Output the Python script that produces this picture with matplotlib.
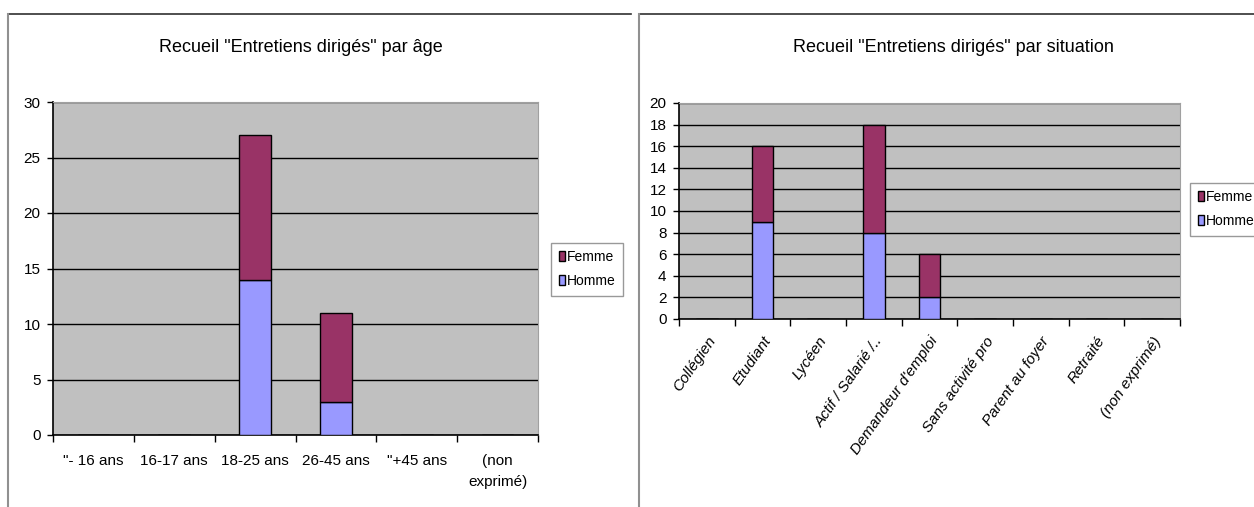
import numpy as np
import matplotlib.pyplot as plt
from matplotlib.lines import Line2D

age_labels = ['"- 16 ans', '16-17 ans', '18-25 ans', '26-45 ans', '"+45 ans', '(non\nexprimé)']
age_homme = [0, 0, 14, 3, 0, 0]
age_femme = [0, 0, 13, 8, 0, 0]

sit_labels = ['Collégien', 'Etudiant', 'Lycéen', 'Actif / Salarié /..', "Demandeur d'emploi",
              'Sans activité pro', 'Parent au foyer', 'Retraité', '(non exprimé)']
sit_homme = [0, 9, 0, 8, 2, 0, 0, 0, 0]
sit_femme = [0, 7, 0, 10, 4, 0, 0, 0, 0]

FEMME = '#993366'
HOMME = '#9999FF'
BG = '#C0C0C0'
plt.rcParams['font.family'] = ['Liberation Sans', 'DejaVu Sans']

W, H = 1254, 507
fig = plt.figure(figsize=(W / 100, H / 100), dpi=100)


def px_axes(x0, y0, x1, y1):
    return fig.add_axes([x0 / W, 1 - y1 / H, (x1 - x0) / W, (y1 - y0) / H])


def stacked(ax, labels, homme, femme, ymax, step, rot):
    x = np.arange(len(labels))
    ax.set_facecolor(BG)
    ax.bar(x, homme, width=0.39, color=HOMME, edgecolor='black', linewidth=1, zorder=3)
    ax.bar(x, femme, width=0.39, bottom=homme, color=FEMME, edgecolor='black', linewidth=1, zorder=3)
    ax.set_xlim(-0.5, len(labels) - 0.5)
    ax.set_ylim(0, ymax)
    ax.set_yticks(np.arange(0, ymax + 1, step))
    ax.yaxis.grid(True, color='black', linewidth=1)
    ax.set_axisbelow(True)
    ax.tick_params(axis='y', labelsize=11, length=4, width=1, pad=5)
    ax.set_xticks(x)
    ax.set_xticks(np.arange(-0.5, len(labels)), minor=True)
    ax.tick_params(axis='x', which='minor', length=5, width=1)
    if rot:
        ax.tick_params(axis='x', which='major', length=0, pad=11)
        ax.set_xticklabels(labels, rotation=rot, ha='right', rotation_mode='anchor',
                           fontsize=11, style='italic')
    else:
        ax.tick_params(axis='x', which='major', length=0, pad=14)
        ax.set_xticklabels(labels, fontsize=11, linespacing=1.6)
    for s in ['top', 'right']:
        ax.spines[s].set_color('#A0A0A0')
    for s in ['left', 'bottom']:
        ax.spines[s].set_color('black')
        ax.spines[s].set_linewidth(1.2)


ax1 = px_axes(53, 102, 538, 435)
stacked(ax1, age_labels, age_homme, age_femme, 30, 5, 0)
ax2 = px_axes(679, 103, 1180, 319)
stacked(ax2, sit_labels, sit_homme, sit_femme, 20, 2, 55)

fig.text(301 / W, 1 - 47 / H, 'Recueil "Entretiens dirigés" par âge', ha='center', va='center', fontsize=13)
fig.text(953 / W, 1 - 47 / H, 'Recueil "Entretiens dirigés" par situation', ha='center', va='center', fontsize=13)

# chart frames
for x0, x1 in [(8, 631), (639, 1254)]:
    fig.add_artist(Line2D([x0 / W, x1 / W], [1 - 14 / H, 1 - 14 / H], color='#303030', lw=1.2))
    fig.add_artist(Line2D([x0 / W, x0 / W], [0, 1 - 14 / H], color='#909090', lw=1.5))

handles = [plt.Rectangle((0, 0), 1, 1, facecolor=FEMME, edgecolor='black'),
           plt.Rectangle((0, 0), 1, 1, facecolor=HOMME, edgecolor='black')]
for (lx, ly) in [(551 / W, 1 - 269 / H), (1190 / W, 1 - 209 / H)]:
    fig.legend(handles, ['Femme', 'Homme'], loc='center left', bbox_to_anchor=(lx, ly),
               fontsize=10, frameon=True, fancybox=False, edgecolor='#808080',
               handlelength=0.45, handleheight=0.75, handletextpad=0.15, borderpad=0.55,
               labelspacing=0.7, borderaxespad=0)

fig.savefig('out.png', dpi=100)
